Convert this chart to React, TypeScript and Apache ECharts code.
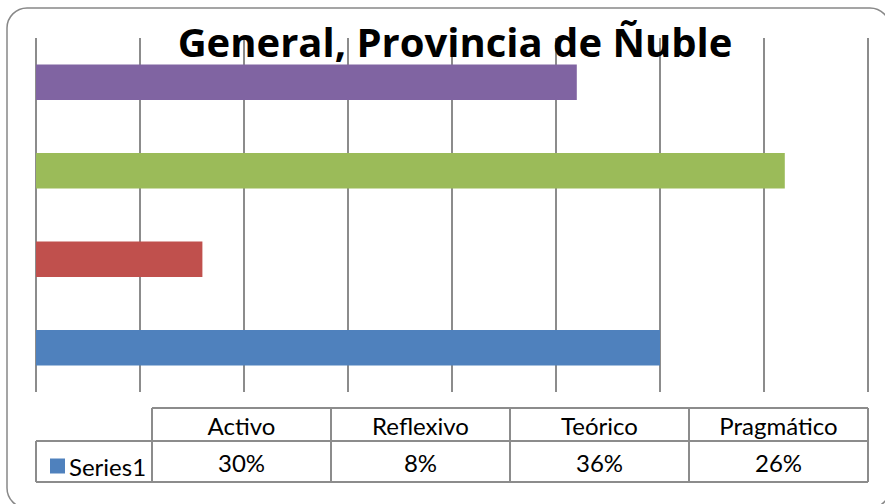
import React, { useEffect, useRef } from "react";
import * as echarts from "echarts";

const titleText = "General, Provincia de Ñuble";
const seriesName = "Series1";
const categories = ["Activo", "Reflexivo", "Teórico", "Pragmático"];
const values = [30, 8, 36, 26];
const axisMin = 0;
const axisMax = 40;
const axisInterval = 5;

const barColors = ["#4F81BD", "#C0504D", "#9BBB59", "#8064A2"];
const lineGray = "#8c8c8c";
const FONT = "Lato, 'Noto Sans', sans-serif";
const TITLE_FONT = "'Open Sans', 'Noto Sans', sans-serif";

// layout
const W = 885;
const H = 504;
const plotLeft = 36;
const plotRight = 868;
const plotTop = 38;
const plotBottom = 392;
const tableTop = 408;
const rowSplit = 441;
const tableBottom = 482;
const labelColRight = 152;

export default function App() {
  const ref = useRef<HTMLDivElement | null>(null);

  useEffect(() => {
    if (!ref.current) return;
    const chart = echarts.init(ref.current, null, { renderer: "svg" });

    const colW = (plotRight - labelColRight) / categories.length;
    const graphics: any[] = [];
    graphics.push({
      type: "rect",
      shape: { x: 7, y: 8, width: 883, height: 500, r: 20 },
      style: { fill: "none", stroke: "#888888", lineWidth: 1.5 },
      silent: true,
    });
    const lines = [
      [labelColRight, tableTop, plotRight, tableTop],
      [plotLeft, rowSplit, plotRight, rowSplit],
      [plotLeft, tableBottom, plotRight, tableBottom],
      [plotLeft, rowSplit, plotLeft, tableBottom],
    ];
    for (let i = 0; i <= categories.length; i++) {
      const x = labelColRight + i * colW;
      lines.push([x, tableTop, x, tableBottom]);
    }
    lines.forEach(([x1, y1, x2, y2]) =>
      graphics.push({
        type: "line",
        shape: { x1, y1, x2, y2 },
        style: { stroke: lineGray, lineWidth: 2 },
        silent: true,
      })
    );
    categories.forEach((c, i) => {
      const cx = labelColRight + (i + 0.5) * colW;
      graphics.push({
        type: "text",
        x: cx,
        y: (tableTop + rowSplit) / 2 + 1,
        style: {
          text: c,
          fontFamily: FONT,
          fontSize: 24,
          fill: "#000",
          align: "center",
          verticalAlign: "middle",
        },
      });
      graphics.push({
        type: "text",
        x: cx,
        y: (rowSplit + tableBottom) / 2 + 1,
        style: {
          text: values[i] + "%",
          fontFamily: FONT,
          fontSize: 24,
          fill: "#000",
          align: "center",
          verticalAlign: "middle",
        },
      });
    });

    chart.setOption({
      animation: false,
      backgroundColor: "#ffffff",
      title: {
        text: titleText,
        left: (plotLeft + plotRight) / 2 - 2,
        textAlign: "center",
        top: 16,
        textStyle: {
          fontFamily: TITLE_FONT,
          fontSize: 40,
          fontWeight: "bold",
          color: "#000",
        },
      },
      legend: {
        left: 45,
        top: 449,
        itemWidth: 15,
        itemHeight: 15,
        icon: "rect",
        itemGap: 5,
        textStyle: { fontFamily: FONT, fontSize: 24, color: "#000", padding: [0, 0, 0, -1] },
        data: [{ name: seriesName, itemStyle: { color: barColors[0] } }],
      },
      grid: {
        left: plotLeft,
        right: W - plotRight,
        top: plotTop,
        bottom: H - plotBottom,
        containLabel: false,
      },
      xAxis: {
        type: "value",
        min: axisMin,
        max: axisMax,
        interval: axisInterval,
        axisLabel: { show: false },
        axisLine: { show: false },
        axisTick: { show: false },
        splitLine: { show: true, lineStyle: { color: lineGray, width: 2 } },
      },
      yAxis: {
        type: "category",
        data: categories,
        axisLabel: { show: false },
        axisLine: { show: false },
        axisTick: { show: false },
        splitLine: { show: false },
      },
      series: [
        {
          name: seriesName,
          type: "bar",
          barWidth: "40%",
          itemStyle: { color: barColors[0] },
          data: values.map((v, i) => ({ value: v, itemStyle: { color: barColors[i] } })),
        },
      ],
      graphic: graphics,
    });

    return () => chart.dispose();
  }, []);

  return (
    <div
      ref={ref}
      style={{ position: "absolute", left: 0, top: 0, width: W, height: H }}
    />
  );
}
